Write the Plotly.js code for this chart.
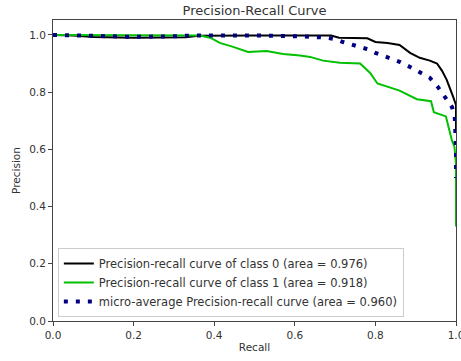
<!DOCTYPE html>
<html>
<head>
<meta charset="utf-8">
<script src="https://cdn.plot.ly/plotly-3.0.1.min.js"></script>
<style>html,body{margin:0;padding:0;background:#fff;}#chart{width:461px;height:361px;}</style>
</head>
<body>
<div id="chart"></div>
<script>
// Class 0
const recall0 = [0, 0.05, 0.1, 0.2, 0.33, 0.36, 0.5, 0.69, 0.71, 0.78, 0.80, 0.83, 0.86, 0.875, 0.886, 0.91, 0.935, 0.953, 0.965, 0.977, 0.985, 0.993, 1.0, 1.0];
const precision0 = [1.0, 0.998, 0.993, 0.99, 0.992, 0.997, 0.998, 0.998, 0.99, 0.988, 0.975, 0.972, 0.965, 0.95, 0.937, 0.92, 0.91, 0.90, 0.875, 0.843, 0.815, 0.783, 0.755, 0.67];
// Class 1
const recall1 = [0, 0.2, 0.365, 0.39, 0.414, 0.447, 0.484, 0.53, 0.571, 0.613, 0.638, 0.67, 0.712, 0.762, 0.787, 0.805, 0.86, 0.903, 0.938, 0.945, 0.975, 0.99, 0.996, 1.0, 1.0];
const precision1 = [1.0, 0.998, 0.998, 0.99, 0.972, 0.958, 0.94, 0.944, 0.933, 0.928, 0.923, 0.91, 0.903, 0.90, 0.867, 0.83, 0.805, 0.775, 0.768, 0.73, 0.715, 0.63, 0.61, 0.55, 0.33];
// Micro-average
const recallMicro = [0, 0.1, 0.2, 0.3, 0.35, 0.5, 0.6, 0.62, 0.68, 0.70, 0.72, 0.745, 0.78, 0.80, 0.83, 0.86, 0.886, 0.91, 0.935, 0.955, 0.973, 0.99, 0.997, 1.0, 1.0];
const precisionMicro = [1.0, 0.995, 0.993, 0.995, 0.998, 0.998, 0.998, 0.995, 0.99, 0.985, 0.975, 0.965, 0.95, 0.937, 0.923, 0.906, 0.888, 0.87, 0.85, 0.818, 0.783, 0.748, 0.713, 0.6, 0.5];

const names = [
  'Precision-recall curve of class 0 (area = 0.976)',
  'Precision-recall curve of class 1 (area = 0.918)',
  'micro-average Precision-recall curve (area = 0.960)'
];
const tickVals = [0, 0.2, 0.4, 0.6, 0.8, 1.0];
const tickText = ['0.0', '0.2', '0.4', '0.6', '0.8', '1.0'];

const traces = [
  {x: recall0, y: precision0, mode: 'lines', name: names[0], line: {color: '#000000', width: 2}},
  {x: recall1, y: precision1, mode: 'lines', name: names[1], line: {color: '#00c000', width: 2}},
  {x: recallMicro, y: precisionMicro, mode: 'lines', name: names[2], line: {color: '#000080', width: 4, dash: '4px,8px'}}
];

const axisCommon = {
  showgrid: false, zeroline: false, showline: true, mirror: true,
  linecolor: '#444', linewidth: 1, ticks: 'outside', ticklen: 4, tickcolor: '#444',
  tickvals: tickVals, ticktext: tickText, ticklabeloverflow: 'allow',
  tickfont: {family: 'DejaVu Sans', size: 10.5, color: '#333'}
};

const layout = {
  width: 461, height: 361,
  margin: {l: 53, r: 5, t: 20, b: 40},
  paper_bgcolor: '#fff', plot_bgcolor: '#fff',
  title: {text: 'Precision-Recall Curve', x: 0.5, xref: 'paper', y: 0.97, yref: 'container', yanchor: 'middle',
          font: {family: 'DejaVu Sans', size: 13, color: '#333'}},
  xaxis: Object.assign({}, axisCommon, {range: [0, 1], title: {text: 'Recall', standoff: 4, font: {family: 'DejaVu Sans', size: 10.5, color: '#333'}}}),
  yaxis: Object.assign({}, axisCommon, {range: [0, 1.052], title: {text: 'Precision', standoff: 6, font: {family: 'DejaVu Sans', size: 10.5, color: '#333'}}}),
  showlegend: true,
  legend: {x: 0.012, y: 0.013, xanchor: 'left', yanchor: 'bottom', bgcolor: 'rgba(255,255,255,0.9)',
           bordercolor: '#ccc', borderwidth: 1, font: {family: 'DejaVu Sans', size: 11.5, color: '#333'},
           tracegroupgap: 0, itemwidth: 30}
};

Plotly.newPlot('chart', traces, layout, {displayModeBar: false, staticPlot: true});
</script>
</body>
</html>
